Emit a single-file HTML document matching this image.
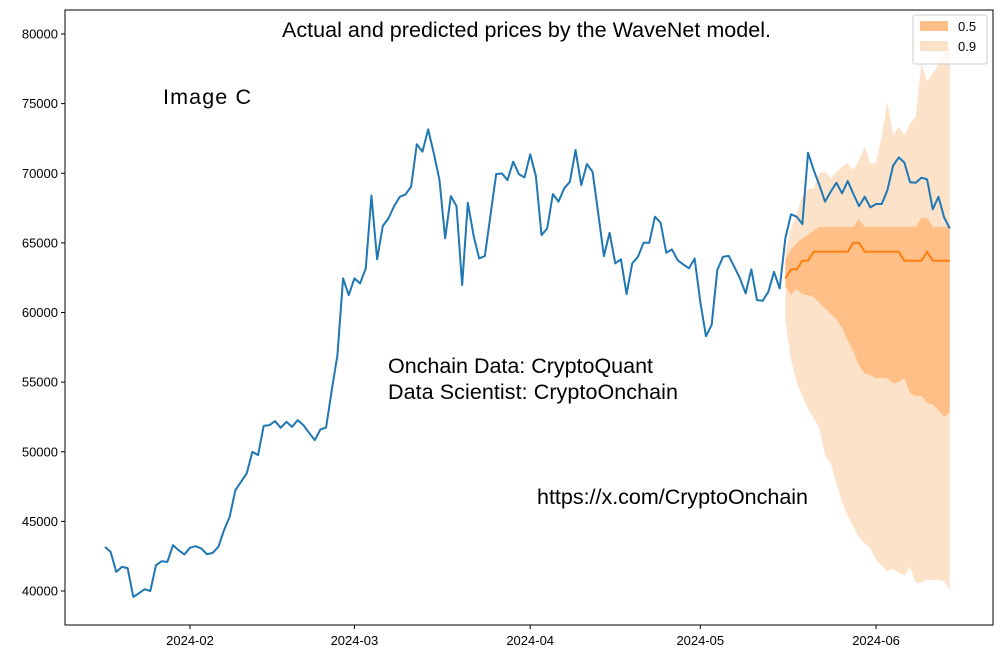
<!DOCTYPE html>
<html><head><meta charset="utf-8"><style>
body{margin:0;background:#fff;}
svg text{font-family:"Liberation Sans",sans-serif;}
</style></head><body>
<svg id="chart" width="1003" height="659" xmlns="http://www.w3.org/2000/svg">
<rect x="0" y="0" width="1003" height="659" fill="#fff"/>
<g id="bands"></g>
<g id="lines"></g>
<rect x="65" y="10" width="928" height="615" fill="none" stroke="#000" stroke-width="1"/>
<g id="axes"></g>
<text x="282" y="37" font-size="21.5" textLength="489">Actual and predicted prices by the WaveNet model.</text>
<text x="163" y="104" font-size="21.5" textLength="88">Image  C</text>
<text x="388" y="373" font-size="21.5" textLength="265">Onchain Data: CryptoQuant</text>
<text x="388" y="399" font-size="21.5" textLength="290">Data Scientist: CryptoOnchain</text>
<text x="537" y="504" font-size="21.5" textLength="271">https://x.com/CryptoOnchain</text>
<g>
<rect x="913" y="15" width="74" height="49" fill="#fff" fill-opacity="0.8" stroke="#ccc" rx="2"/>
<rect x="920" y="21" width="28" height="10" fill="#ffbf86"/>
<text x="958" y="31" font-size="13">0.5</text>
<rect x="920" y="41" width="28" height="10" fill="#fde2ca"/>
<text x="958" y="51" font-size="13">0.9</text>
</g>
</svg>
<script>
const actual = [43170,42810,41370,41730,41640,39580,39840,40130,40000,41850,42140,42090,43290,42930,42620,43100,43220,43050,42640,42740,43170,44370,45330,47240,47840,48440,49990,49760,51860,51910,52200,51720,52150,51790,52270,51910,51360,50830,51600,51740,54420,56940,62450,61250,62450,62090,63170,68390,63820,66210,66760,67640,
68310,68480,69040,72080,71550,73150,71430,69510,65320,68360,67640,61970,67880,65560,63880,64050,67000,69940,69990,69510,70830,69940,69700,71360,69800,65560,66040,68510,67960,68920,69390,71670,69150,70660,70110,67120,64050,65730,63530,63820,61330,63530,64000,65010,65010,66880,66450,64290,64530,63760,63450,63170,63880,60770,58300,59100,63050,64000,64070,63280,62450,61370,63100,60890,60840,61490,62920,61730,
65330,67050,66880,66350,71470,70230,69150,67960,68670,69320,68560,69440,68510,67640,68310,67550,67790,67790,68790,70540,71140,70760,69350,69320,69680,69560,67410,68310,66830,66040];
const forecastStart = 120;
const median = [62450,63100,63100,63720,63720,64360,64360,64360,64360,64360,64360,64360,65010,65010,64360,64360,64360,64360,64360,64360,64360,63720,63720,63720,63720,64360,63720,63720,63720,63720];
const q50Upper = [63800,64500,65000,65300,65600,65900,66150,66150,66150,66150,66150,66150,66150,66700,66150,66150,66150,66150,66150,66150,66150,66150,66150,66150,66800,66800,66150,66150,66150,66150];
const q50Lower = [61900,61250,61700,61300,61250,61100,60700,60300,59900,59500,58900,58000,57200,56200,55600,55500,55300,55300,55250,54900,55000,55300,54200,54000,54000,53500,53400,53000,52500,52800];
const q90Upper = [64300,66000,67000,68400,68840,68920,69990,70110,69630,70110,70470,70710,70230,70950,71900,70710,70710,72620,75140,72740,73340,72740,73580,74060,77900,76580,77180,77780,78610,79090];
const q90Lower = [59400,56600,55000,54000,53050,52400,51700,49700,49200,47700,46400,45400,44600,43850,43400,43100,42200,41800,41400,41600,41300,41100,41700,40600,40600,40800,40800,40800,40700,40100];
const yTicks = [40000,45000,50000,55000,60000,65000,70000,75000,80000];
const xTickLabels = ["2024-02","2024-03","2024-04","2024-05","2024-06"];
const xTickDays = [15,44,75,105,136];

const NS="http://www.w3.org/2000/svg";
function xs(d){return 190+(d-15)*5.67;}
function ys(v){return 34+(80000-v)/5000*69.625;}
function mk(tag,attrs,parent){const e=document.createElementNS(NS,tag);for(const k in attrs)e.setAttribute(k,attrs[k]);parent.appendChild(e);return e;}
const bands=document.getElementById('bands'),lines=document.getElementById('lines'),axes=document.getElementById('axes');
function bandPath(up,lo){let p='';up.forEach((v,i)=>{p+=(i?'L':'M')+xs(forecastStart+i)+','+ys(v);});for(let i=lo.length-1;i>=0;i--)p+='L'+xs(forecastStart+i)+','+ys(lo[i]);return p+'Z';}
const b90=mk('path',{d:bandPath(q90Upper,q90Lower),fill:'#fde2ca'},bands);


const b50=mk('path',{d:bandPath(q50Upper,q50Lower),fill:'#ffbf86'},bands);


const la=mk('path',{d:actual.map((v,i)=>(i?'L':'M')+xs(i)+','+ys(v)).join(''),fill:'none',stroke:'#1f77b4','stroke-width':2,'stroke-linejoin':'round'},lines);


const lm=mk('path',{d:median.map((v,i)=>(i?'L':'M')+xs(forecastStart+i)+','+ys(v)).join(''),fill:'none',stroke:'#ff7f0e','stroke-width':2},lines);


yTicks.forEach(v=>{const y=ys(v);
 const t=mk('line',{x1:61,x2:65,y1:y,y2:y,stroke:'#000'},axes);
 
 
 const l=mk('text',{x:58,y:y+4.5,'font-size':13,'text-anchor':'end'},axes);l.textContent=v;
 
 });
xTickDays.forEach((d,i)=>{const x=xs(d);
 const t=mk('line',{x1:x,x2:x,y1:625,y2:629,stroke:'#000'},axes);
 
 
 const l=mk('text',{x:x,y:645,'font-size':13,'text-anchor':'middle'},axes);l.textContent=xTickLabels[i];
 
 });
</script>
</body></html>
